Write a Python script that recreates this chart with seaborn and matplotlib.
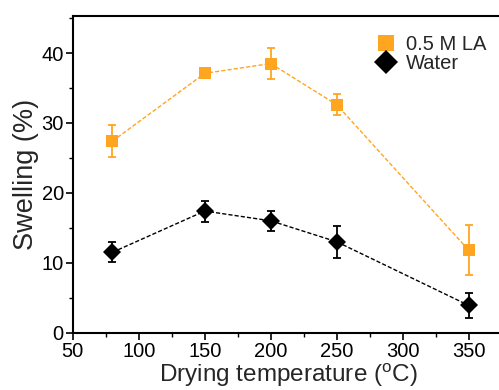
import matplotlib
matplotlib.use("Agg")
import matplotlib.pyplot as plt
import seaborn as sns
import pandas as pd
from matplotlib.lines import Line2D
from matplotlib.ticker import MultipleLocator

# Drying temperature (°C) and swelling (%) with error bars
temperature = [80, 150, 200, 250, 350]
la_swelling = [27.4, 37.1, 38.5, 32.6, 11.8]
la_error = [2.3, 0.6, 2.2, 1.5, 3.6]
water_swelling = [11.5, 17.4, 16.0, 13.0, 3.9]
water_error = [1.4, 1.5, 1.4, 2.3, 1.8]
series_names = ["0.5 M LA", "Water"]

ORANGE = "#FFA51F"
BLACK = "#000000"

sns.set_theme(style="ticks")
plt.rcParams["font.family"] = ["Liberation Sans", "DejaVu Sans"]

df = pd.DataFrame({
    "temperature": temperature * 2,
    "swelling": la_swelling + water_swelling,
    "series": [series_names[0]] * len(temperature) + [series_names[1]] * len(temperature),
})

fig = plt.figure(figsize=(4.99, 3.90), dpi=100)
ax = fig.add_axes([0.146, 0.147, 0.862, 0.812])

palette = {series_names[0]: ORANGE, series_names[1]: BLACK}
sns.lineplot(data=df, x="temperature", y="swelling", hue="series", palette=palette,
             style="series", markers={series_names[0]: "s", series_names[1]: "D"},
             dashes={series_names[0]: (3, 1.5), series_names[1]: (3, 1.5)},
             markersize=9, markeredgewidth=0, linewidth=1.0, legend=False, ax=ax,
             zorder=3)

ax.errorbar(temperature, la_swelling, yerr=la_error, fmt="none", ecolor=ORANGE,
            elinewidth=1.3, capsize=3, capthick=1.3, zorder=2)
ax.errorbar(temperature, water_swelling, yerr=water_error, fmt="none", ecolor=BLACK,
            elinewidth=1.3, capsize=3, capthick=1.3, zorder=2)

ax.set_xlim(50, 376)
ax.set_ylim(0, 45.3)
ax.xaxis.set_major_locator(MultipleLocator(50))
ax.xaxis.set_minor_locator(MultipleLocator(25))
ax.yaxis.set_major_locator(MultipleLocator(10))
ax.yaxis.set_minor_locator(MultipleLocator(5))
ax.tick_params(which="major", direction="out", length=5, width=1.2, labelsize=14.5,
               pad=1.5, color="black", labelcolor="black")
ax.tick_params(which="minor", direction="out", length=3, width=1.0, color="black")

for side in ["left", "bottom", "top"]:
    ax.spines[side].set_color("black")
    ax.spines[side].set_linewidth(1.5)
ax.spines["right"].set_visible(False)

ax.set_xlabel("Drying temperature ($^{\\mathregular{o}}$C)", fontsize=17.5, labelpad=0)
ax.set_ylabel("Swelling (%)", fontsize=19.5, labelpad=2)

handles = [
    Line2D([], [], linestyle="none", marker="s", markersize=11.5, color=ORANGE,
           markeredgewidth=0),
    Line2D([], [], linestyle="none", marker="D", markersize=12, color=BLACK,
           markeredgewidth=0),
]
ax.legend(handles, series_names, loc="upper left", bbox_to_anchor=(0.705, 0.94),
          frameon=False, fontsize=14.5, handlelength=1.0, handletextpad=0.5,
          labelspacing=0.0, borderaxespad=0.0, borderpad=0.0)

fig.savefig("out.png", dpi=100)
